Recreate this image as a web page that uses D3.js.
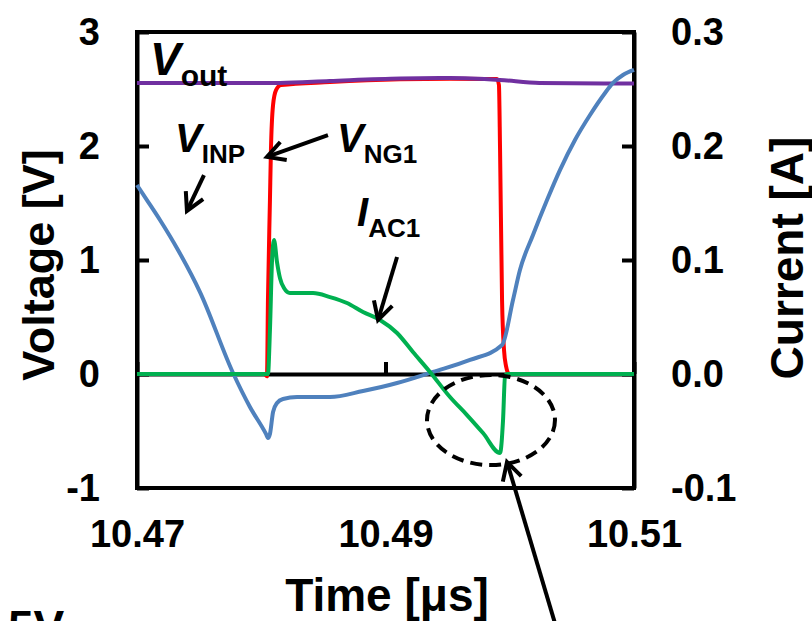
<!DOCTYPE html>
<html>
<head>
<meta charset="utf-8">
<script src="https://cdn.jsdelivr.net/npm/d3@7"></script>
<style>
body{margin:0;background:#fff;}
svg{display:block;font-family:"Liberation Sans",Arial,sans-serif;font-weight:bold;}
</style>
</head>
<body>
<script>
// tick values
const timeTicks = [10.47, 10.49, 10.51];
const voltTicks = [-1, 0, 1, 2, 3];
const currTicks = [-0.1, 0.0, 0.1, 0.2, 0.3];

// series, [time us, value]
const vout = [[10.47,2.553],[10.4815,2.553],[10.4855,2.570],[10.4912,2.592],[10.4952,2.596],[10.4992,2.579],[10.5024,2.553],[10.51,2.548]];
const vng1 = [[10.47,0],[10.4803,0],[10.48046,-0.02],[10.48054,0.649],[10.4807,1.526],[10.48078,1.965],[10.48095,2.36],[10.48119,2.49],[10.48159,2.535],[10.48553,2.561],[10.49117,2.585],[10.49519,2.59],[10.49897,2.588],[10.49913,2.535],[10.49922,1.965],[10.49938,0.649],[10.49954,0.21],[10.4997,0.07],[10.49994,0],[10.51,0]];
const vinp = [[10.47,1.658],[10.4708,1.526],[10.47185,1.351],[10.4733,1.088],[10.47507,0.719],[10.47773,0.009],[10.47909,-0.289],[10.48038,-0.526],[10.48054,-0.561],[10.4807,-0.526],[10.48095,-0.333],[10.48127,-0.254],[10.48175,-0.219],[10.48288,-0.202],[10.48553,-0.202],[10.48819,-0.149],[10.49093,-0.079],[10.49382,0.018],[10.4968,0.123],[10.49938,0.254],[10.50026,0.649],[10.50082,0.912],[10.50187,1.219],[10.503,1.526],[10.50404,1.789],[10.50525,2.053],[10.50646,2.272],[10.50767,2.465],[10.50831,2.553],[10.50911,2.623],[10.51,2.667]];
const iac1 = [[10.47,0],[10.48054,0],[10.4807,0.0386],[10.48087,0.1],[10.48103,0.1175],[10.48127,0.098],[10.48151,0.084],[10.48183,0.0754],[10.48231,0.071],[10.48417,0.071],[10.48553,0.0675],[10.4869,0.0623],[10.48819,0.0544],[10.48956,0.0474],[10.49093,0.036],[10.49221,0.0193],[10.49358,0.0018],[10.49519,-0.0202],[10.49656,-0.036],[10.49785,-0.0518],[10.49922,-0.0693],[10.49946,-0.0404],[10.49962,-0.0018],[10.49978,0],[10.51,0]];

const width = 812, height = 621;
let svg = d3.select("body").append("svg")
	.attr("width", width)
	.attr("height", height);

let x = d3.scaleLinear().domain([10.47, 10.51]).range([137, 634]);
let yV = d3.scaleLinear().domain([-1, 3]).range([488, 32]);
let yI = d3.scaleLinear().domain([-0.1, 0.3]).range([488, 32]);

//frame
svg.append("rect")
	.attr("x", x(10.47)).attr("y", yV(3))
	.attr("width", x(10.51) - x(10.47)).attr("height", yV(-1) - yV(3))
	.attr("fill", "none").attr("stroke", "#000").attr("stroke-width", 4);

function styleAxis(g, size){
	g.select(".domain").attr("stroke-width", 4);
	g.selectAll(".tick line").attr("stroke-width", 4);
	g.attr("font-family", null).attr("font-size", size);
	g.selectAll("text").attr("fill", "#000");
}

//x axis crossing at 0 V
svg.append("g")
	.attr("transform", "translate(0," + yV(0) + ")")
	.call(d3.axisBottom(x).tickValues(timeTicks).tickSizeInner(-12).tickSizeOuter(0).tickFormat(""))
	.call(g => styleAxis(g, 38));
//x labels low
svg.append("g")
	.attr("transform", "translate(0," + yV(-1) + ")")
	.call(d3.axisBottom(x).tickValues(timeTicks).tickSize(0).tickPadding(32).tickFormat(d => d.toFixed(2)))
	.call(g => { styleAxis(g, 38); g.select(".domain").remove(); });
//left axis
svg.append("g")
	.attr("transform", "translate(" + x(10.47) + ",0)")
	.call(d3.axisLeft(yV).tickValues(voltTicks).tickSizeInner(-12).tickSizeOuter(0).tickPadding(37).tickFormat(d => String(d)))
	.call(g => styleAxis(g, 38));
//right axis
svg.append("g")
	.attr("transform", "translate(" + x(10.51) + ",0)")
	.call(d3.axisRight(yI).tickValues(currTicks).tickSizeInner(-12).tickSizeOuter(0).tickPadding(37).tickFormat(d => d.toFixed(1)))
	.call(g => styleAxis(g, 38));

//series
const lineV = d3.line().x(d => x(d[0])).y(d => yV(d[1])).curve(d3.curveMonotoneX);
const lineI = d3.line().x(d => x(d[0])).y(d => yI(d[1])).curve(d3.curveMonotoneX);
const series = [
	{data: vng1, line: lineV, color: "#ff0000"},
	{data: vout, line: lineV, color: "#7030a0"},
	{data: vinp, line: lineV, color: "#4f81bd"},
	{data: iac1, line: lineI, color: "#00b050"}
];
series.forEach(s => {
	svg.append("path")
		.datum(s.data)
		.attr("d", s.line)
		.attr("fill", "none")
		.attr("stroke", s.color)
		.attr("stroke-width", 4)
		.attr("stroke-linejoin", "round");
});

//axis titles
svg.append("text")
	.attr("transform", "translate(54,265) rotate(-90)")
	.attr("text-anchor", "middle").attr("font-size", 45)
	.text("Voltage [V]");
svg.append("text")
	.attr("transform", "translate(803,258) rotate(-90)")
	.attr("text-anchor", "middle").attr("font-size", 46)
	.text("Current [A]");
svg.append("text")
	.attr("x", 387).attr("y", 611)
	.attr("text-anchor", "middle").attr("font-size", 46)
	.text("Time [\u03bcs]");
svg.append("text")
	.attr("x", 8).attr("y", 643)
	.attr("font-size", 46)
	.text("5V");

//labels: main letter, subscript, position in data units
const labels = [
	{main: "V", sub: "out", t: 10.47105, v: 2.623, y: yV, size: 46, subSize: 30},
	{main: "V", sub: "INP", t: 10.47306, v: 1.947, y: yV, size: 40, subSize: 26},
	{main: "V", sub: "NG1", t: 10.4861, v: 1.947, y: yV, size: 40, subSize: 26},
	{main: "I", sub: "AC1", t: 10.48771, v: 0.1298, y: yI, size: 40, subSize: 26}
];
labels.forEach(l => {
	let t = svg.append("text").attr("x", x(l.t)).attr("y", l.y(l.v));
	t.append("tspan").attr("font-style", "italic").attr("font-size", l.size).text(l.main);
	t.append("tspan").attr("font-size", l.subSize).attr("dy", 11).text(l.sub);
});

//arrows [t1, v1, t2, v2, scale], tip at the second point
const arrows = [
	[10.47539, 1.745, 10.47402, 1.43, yV],
	[10.48537, 2.096, 10.48046, 1.904, yV],
	[10.49093, 0.1026, 10.4894, 0.0474, yI],
	[10.50404, -2.333, 10.49978, -0.772, yV]
];
arrows.forEach(a => {
	let x1 = x(a[0]), y1 = a[4](a[1]), x2 = x(a[2]), y2 = a[4](a[3]);
	let ang = Math.atan2(y2 - y1, x2 - x1);
	let len = 20, spread = 0.5;
	svg.append("line")
		.attr("x1", x1).attr("y1", y1).attr("x2", x2).attr("y2", y2)
		.attr("stroke", "#000").attr("stroke-width", 4);
	let pts = [
		[x2 - len * Math.cos(ang - spread), y2 - len * Math.sin(ang - spread)],
		[x2, y2],
		[x2 - len * Math.cos(ang + spread), y2 - len * Math.sin(ang + spread)]
	];
	svg.append("polyline")
		.attr("points", pts.map(p => p.join(",")).join(" "))
		.attr("fill", "none").attr("stroke", "#000").attr("stroke-width", 4)
		.attr("stroke-linejoin", "miter");
});

//dashed ellipse round the negative peak
svg.append("ellipse")
	.attr("cx", x(10.49849)).attr("cy", yV(-0.404))
	.attr("rx", x(10.49849 + 0.00515) - x(10.49849))
	.attr("ry", yV(-0.404 - 0.395) - yV(-0.404))
	.attr("fill", "none").attr("stroke", "#000")
	.attr("stroke-width", 4).attr("stroke-dasharray", "12,7");
</script>
</body>
</html>
